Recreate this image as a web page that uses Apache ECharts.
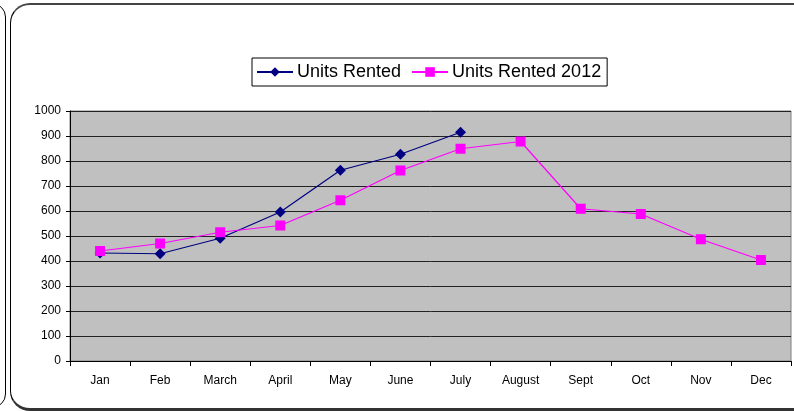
<!DOCTYPE html>
<html>
<head>
<meta charset="utf-8">
<script src="https://cdn.jsdelivr.net/npm/echarts@6/dist/echarts.min.js"></script>
<style>
  html, body { margin: 0; padding: 0; background: #fff; }
  #wrap { position: relative; width: 794px; height: 411px; overflow: hidden; }
  .box { position: absolute; box-sizing: border-box; }
  #side { left: -30px; top: 3px; width: 36px; height: 405px; border: 1px solid #000; border-radius: 14px; }
  #frame { left: 10px; top: 3px; width: 820px; height: 408px; border: 1px solid #000;
           border-top: 2px solid #444; border-bottom: 3px solid #333; border-radius: 20px; }
  #chart { position: absolute; left: 0; top: 0; width: 794px; height: 411px; }
</style>
</head>
<body>
<div id="wrap">
  <div class="box" id="side"></div>
  <div class="box" id="frame"></div>
  <div id="chart"></div>
</div>
<script>
const months = ['Jan', 'Feb', 'March', 'April', 'May', 'June', 'July', 'August', 'Sept', 'Oct', 'Nov', 'Dec']
const unitsRented = [432, 429, 491, 596, 763, 827, 915]
const unitsRented2012 = [440, 470, 515, 542, 643, 762, 849, 878, 609, 588, 487, 404]

const myChart = echarts.init(document.getElementById('chart'))
myChart.setOption({
  animation: false,
  textStyle: { fontFamily: 'Liberation Sans, Arial, sans-serif' },
  legend: {
    left: 252,
    top: 58,
    padding: [5, 6, 5, 4],
    itemGap: 10,
    itemWidth: 36,
    itemHeight: 12,
    backgroundColor: '#fff',
    borderColor: '#000',
    borderWidth: 1,
    borderRadius: 0,
    textStyle: { fontSize: 18, color: '#000', padding: [0, 0, 0, -1] },
    data: ['Units Rented', 'Units Rented 2012'],
  },
  grid: {
    left: 70,
    top: 111,
    right: 3,
    bottom: 50,
    show: true,
    backgroundColor: '#c0c0c0',
    borderColor: '#808080',
    borderWidth: 1,
  },
  xAxis: {
    type: 'category',
    data: months,
    boundaryGap: true,
    axisLine: { lineStyle: { color: '#000', width: 1 } },
    axisTick: { show: true, length: 5, lineStyle: { color: '#000' } },
    axisLabel: { color: '#000', fontSize: 12, margin: 14 },
  },
  yAxis: {
    type: 'value',
    min: 0,
    max: 1000,
    interval: 100,
    axisLine: { show: true, lineStyle: { color: '#000', width: 1 } },
    axisTick: { show: true, length: 4, lineStyle: { color: '#000' } },
    axisLabel: { color: '#000', fontSize: 12, margin: 9, formatter: (v) => String(v) },
    splitLine: { show: true, lineStyle: { color: '#222', width: 1 } },
  },
  series: [
    {
      name: 'Units Rented',
      type: 'line',
      data: unitsRented,
      symbol: 'diamond',
      symbolSize: 11,
      color: '#000080',
      lineStyle: { color: '#000080', width: 1.2 },
      itemStyle: { color: '#000080' },
      z: 3,
    },
    {
      name: 'Units Rented 2012',
      type: 'line',
      data: unitsRented2012,
      symbol: 'rect',
      symbolSize: 10,
      color: '#ff00ff',
      lineStyle: { color: '#ff00ff', width: 1.2 },
      itemStyle: { color: '#ff00ff' },
      z: 4,
    },
  ],
})
</script>
</body>
</html>
